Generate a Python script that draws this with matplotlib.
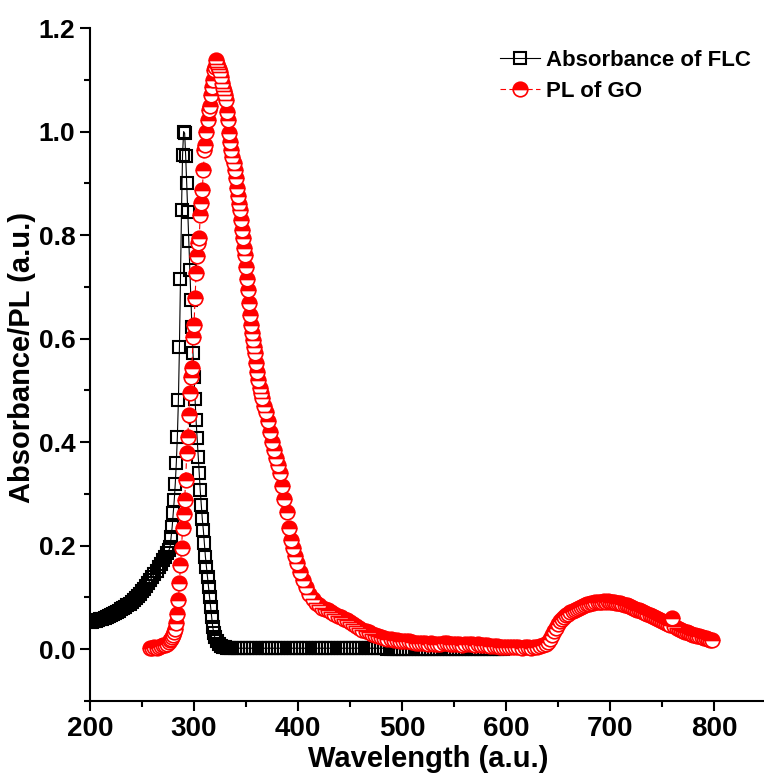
import numpy as np
import matplotlib.pyplot as plt
from matplotlib.ticker import MultipleLocator, FormatStrFormatter

plt.rcParams['font.family'] = ['Liberation Sans', 'DejaVu Sans']
plt.rcParams['font.weight'] = 'bold'

# ---- Absorbance of FLC (black squares) ----
abs_wl = np.concatenate([np.arange(200, 277, 2), np.arange(277, 321, 1),
                         np.arange(322, 335, 2), np.arange(336, 598, 3)])
abs_val = [
    0.052, 0.053, 0.054, 0.055, 0.057, 0.058, 0.059, 0.061, 0.063, 0.064,
    0.066, 0.068, 0.070, 0.072, 0.074, 0.077, 0.079, 0.082, 0.085, 0.088,
    0.091, 0.095, 0.099, 0.103, 0.107, 0.112, 0.117, 0.122, 0.128, 0.134,
    0.140, 0.146, 0.152, 0.158, 0.165, 0.172, 0.178, 0.185, 0.192,
    # 277-320 nm
    0.197, 0.216, 0.236, 0.263, 0.288, 0.320, 0.360, 0.410, 0.481, 0.584,
    0.715, 0.848, 0.955, 1.000, 0.997, 0.953, 0.900, 0.845, 0.788, 0.732,
    0.674, 0.622, 0.572, 0.526, 0.483, 0.442, 0.408, 0.371, 0.340, 0.307,
    0.278, 0.251, 0.230, 0.205, 0.178, 0.158, 0.139, 0.120, 0.100, 0.081,
    0.062, 0.043, 0.032, 0.023,
    # 322-334 nm
    0.015, 0.010, 0.007, 0.005, 0.004, 0.003, 0.003,
    # 336-597 nm
    0.002, 0.002, 0.002, 0.002, 0.002, 0.002, 0.002, 0.002, 0.002, 0.002,
    0.002, 0.002, 0.002, 0.002, 0.002, 0.002, 0.002, 0.002, 0.002, 0.002,
    0.002, 0.002, 0.002, 0.002, 0.002, 0.002, 0.002, 0.002, 0.002, 0.002,
    0.002, 0.002, 0.002, 0.002, 0.002, 0.002, 0.002, 0.002, 0.002, 0.002,
    0.002, 0.002, 0.002, 0.002, 0.002, 0.002, 0.002, 0.002, 0.002, 0.002,
    0.001, 0.001, 0.001, 0.001, 0.001, 0.001, 0.001, 0.001, 0.001, 0.001,
    0.001, 0.001, 0.001, 0.001, 0.001, 0.001, 0.001, 0.001, 0.001, 0.001,
    0.001, 0.001, 0.001, 0.001, 0.001, 0.001, 0.001, 0.001, 0.001, 0.001,
    0.001, 0.001, 0.001, 0.001, 0.001, 0.001, 0.001, 0.001,
]

# ---- PL of GO (red half-filled circles) ----
pl_wl = np.concatenate([np.arange(258, 277, 2), np.arange(277, 366, 1),
                        np.arange(367, 400, 2), np.arange(402, 637, 3),
                        np.arange(638, 799, 2)])
pl_val = [
    0.003, 0.002, 0.004, 0.003, 0.005, 0.006, 0.008, 0.009, 0.011, 0.014,
    # 277-365 nm
    0.017, 0.020, 0.024, 0.028, 0.033, 0.040, 0.050, 0.068, 0.095, 0.128,
    0.162, 0.195, 0.234, 0.262, 0.288, 0.327, 0.379, 0.410, 0.452, 0.495,
    0.526, 0.543, 0.603, 0.626, 0.678, 0.727, 0.760, 0.785, 0.794, 0.839,
    0.862, 0.887, 0.926, 0.964, 0.974, 0.999, 1.022, 1.041, 1.050, 1.070,
    1.086, 1.100, 1.119, 1.125, 1.138, 1.130, 1.125, 1.120, 1.115, 1.105,
    1.094, 1.085, 1.078, 1.070, 1.061, 1.038, 1.022, 0.997, 0.980, 0.965,
    0.951, 0.940, 0.925, 0.910, 0.891, 0.875, 0.860, 0.848, 0.829, 0.810,
    0.794, 0.775, 0.761, 0.738, 0.715, 0.694, 0.668, 0.645, 0.626, 0.610,
    0.597, 0.583, 0.572, 0.553, 0.535, 0.520, 0.504, 0.495, 0.485,
    # 367-399 nm
    0.470, 0.458, 0.440, 0.420, 0.400, 0.385, 0.370, 0.355, 0.340, 0.315,
    0.290, 0.265, 0.235, 0.212, 0.195, 0.180, 0.166,
    # 402-636 nm
    0.150, 0.133, 0.120, 0.107, 0.097, 0.090, 0.085, 0.080, 0.078, 0.075,
    0.072, 0.069, 0.065, 0.062, 0.059, 0.056, 0.052, 0.048, 0.045, 0.041,
    0.038, 0.036, 0.033, 0.030, 0.027, 0.025, 0.023, 0.022, 0.020, 0.019,
    0.018, 0.017, 0.016, 0.016, 0.015, 0.015, 0.014, 0.013, 0.013, 0.012,
    0.012, 0.011, 0.012, 0.011, 0.010, 0.011, 0.012, 0.012, 0.011, 0.010,
    0.011, 0.010, 0.009, 0.010, 0.011, 0.010, 0.009, 0.010, 0.009, 0.008,
    0.008, 0.007, 0.007, 0.006, 0.005, 0.005, 0.004, 0.004, 0.005, 0.004,
    0.004, 0.003, 0.004, 0.004, 0.003, 0.004, 0.005, 0.006, 0.008,
    # 638-798 nm
    0.010, 0.014, 0.020, 0.028, 0.035, 0.042, 0.048, 0.054, 0.058, 0.062,
    0.066, 0.069, 0.072, 0.074, 0.076, 0.078, 0.080, 0.082, 0.084, 0.085,
    0.087, 0.088, 0.089, 0.090, 0.091, 0.091, 0.092, 0.092, 0.093, 0.092,
    0.093, 0.092, 0.092, 0.091, 0.090, 0.090, 0.089, 0.088, 0.086, 0.085,
    0.083, 0.082, 0.080, 0.078, 0.076, 0.075, 0.073, 0.071, 0.070, 0.068,
    0.066, 0.064, 0.062, 0.060, 0.058, 0.056, 0.054, 0.052, 0.050, 0.048,
    0.047, 0.060, 0.044, 0.042, 0.040, 0.038, 0.036, 0.034, 0.033, 0.031,
    0.030, 0.028, 0.027, 0.026, 0.025, 0.023, 0.022, 0.021, 0.019, 0.018,
    0.017,
]

fig = plt.figure(figsize=(7.64, 7.83), dpi=100)
ax = fig.add_axes([0.1178, 0.1047, 0.8848, 0.8595])

ax.plot(abs_wl, abs_val, color='black', lw=0.8, marker='s', ms=8,
        mfc='none', mec='black', mew=1.5, label='Absorbance of FLC')
ax.plot(pl_wl, pl_val, color='red', lw=0.8, ls=(0, (5, 3)), marker='o', ms=10.5,
        fillstyle='top', mfc='red', markerfacecoloralt='white', mec='red',
        mew=1.2, label='PL of GO')

ax.set_xlim(200, 850)
ax.set_ylim(-0.1, 1.2)
ax.xaxis.set_major_locator(MultipleLocator(100))
ax.xaxis.set_minor_locator(MultipleLocator(50))
ax.yaxis.set_major_locator(MultipleLocator(0.2))
ax.yaxis.set_minor_locator(MultipleLocator(0.1))
ax.yaxis.set_major_formatter(FormatStrFormatter('%.1f'))
ax.set_xticks(np.arange(200, 801, 100))

for s in ['top', 'right']:
    ax.spines[s].set_visible(False)
for s in ['left', 'bottom']:
    ax.spines[s].set_linewidth(1.5)

ax.tick_params(which='major', direction='out', length=7, width=1.5)
ax.tick_params(which='minor', direction='out', length=4, width=1.5)

for lab in ax.get_xticklabels():
    lab.set_fontsize(20)
    lab.set_fontweight('bold')
for lab in ax.get_yticklabels():
    lab.set_fontsize(19)
    lab.set_fontweight('bold')

ax.set_xlabel('Wavelength (a.u.)', fontsize=21, fontweight='bold')
ax.xaxis.set_label_coords(0.5, -0.065)
ax.xaxis.label.set_va('top')
ax.set_ylabel('Absorbance/PL (a.u.)', fontsize=21, fontweight='bold')
ax.yaxis.set_label_coords(-0.08, 0.51)

ax.legend(loc='upper left', bbox_to_anchor=(0.606, 0.967), frameon=False,
          prop={'size': 16, 'weight': 'bold'}, handlelength=1.8,
          handletextpad=0.3, labelspacing=0.45, borderaxespad=0, borderpad=0,
          numpoints=1)

fig.savefig('out.png', dpi=100)
